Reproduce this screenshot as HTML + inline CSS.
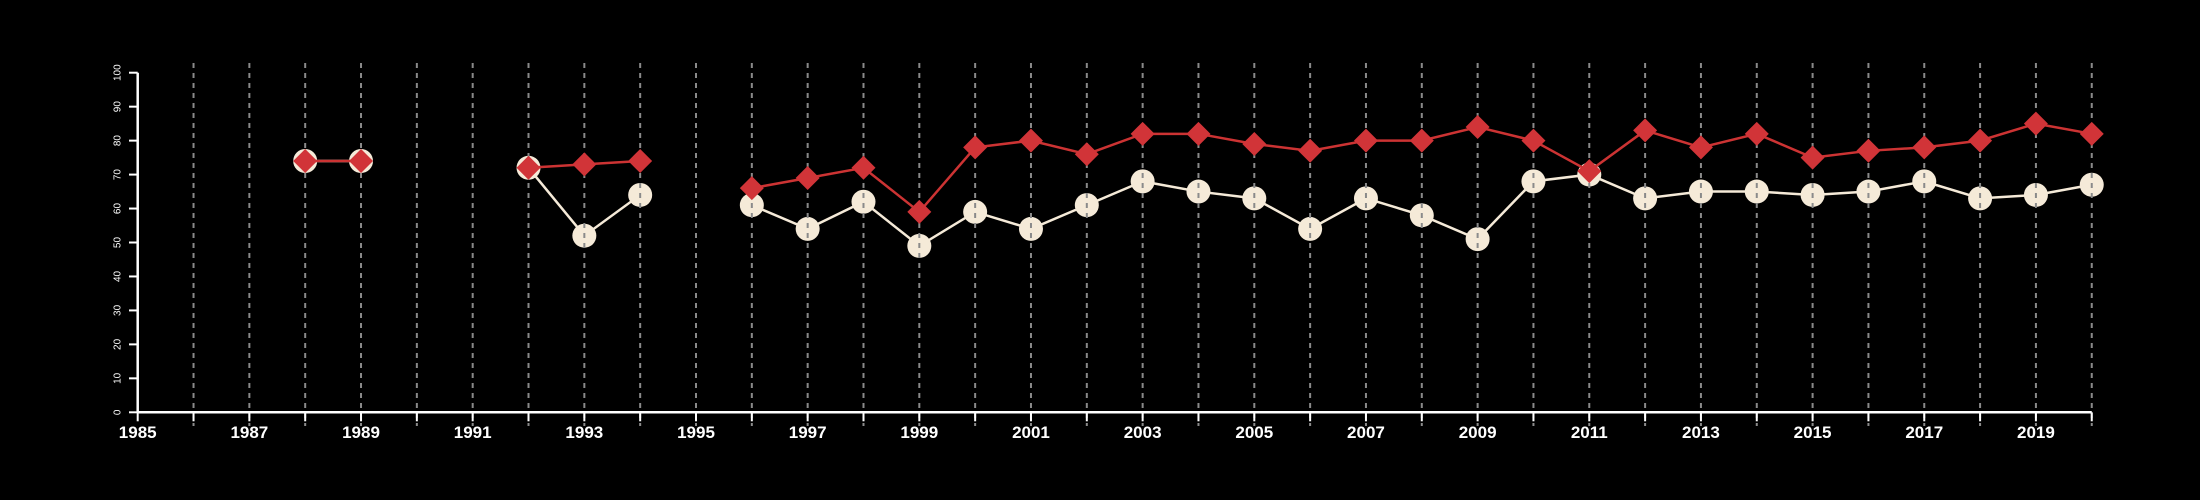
<!DOCTYPE html>
<html><head><meta charset="utf-8"><style>
html,body{margin:0;padding:0;background:#000;width:2200px;height:500px;overflow:hidden}
svg{display:block}
text{font-family:"Liberation Sans",sans-serif;fill:#fff}
</style></head><body>
<svg id="chart" width="2200" height="500" xmlns="http://www.w3.org/2000/svg">
<rect width="2200" height="500" fill="#000"/>
<g id="gCircles"></g>
<g id="gGrid"></g>
<g id="gRed"></g>
<g id="gAxes"></g>
</svg>
<script>
const years = [1988,1989,1990,1991,1992,1993,1994,1995,1996,1997,1998,1999,2000,2001,2002,2003,2004,2005,2006,2007,2008,2009,2010,2011,2012,2013,2014,2015,2016,2017,2018,2019,2020];
const whiteValues = [74,74,null,null,72,52,64,null,61,54,62,49,59,54,61,68,65,63,54,63,58,51,68,70,63,65,65,64,65,68,63,64,67];
const redValues = [74,74,null,null,72,73,74,null,66,69,72,59,78,80,76,82,82,79,77,80,80,84,80,71,83,78,82,75,77,78,80,85,82];
const yTicks = [0,10,20,30,40,50,60,70,80,90,100];
const xTickLabels = [1985,1987,1989,1991,1993,1995,1997,1999,2001,2003,2005,2007,2009,2011,2013,2015,2017,2019];

const NS="http://www.w3.org/2000/svg";
const x = y => 137.7 + (y-1985)*55.83;
const yS = v => 412.3 - v*3.396;
function mk(tag, attrs, parent){const e=document.createElementNS(NS,tag);for(const k in attrs)e.setAttribute(k,attrs[k]);parent.appendChild(e);return e;}
const gC=document.getElementById('gCircles'), gG=document.getElementById('gGrid'), gR=document.getElementById('gRed'), gA=document.getElementById('gAxes');

function segments(vals){const segs=[];let cur=[];vals.forEach((v,i)=>{if(v==null){if(cur.length)segs.push(cur);cur=[];}else cur.push([x(years[i]),yS(v)]);});if(cur.length)segs.push(cur);return segs;}

segments(whiteValues).forEach(s=>{
  const l=mk('polyline',{points:s.map(p=>p.join(',')).join(' '),fill:'none',stroke:'#f5ead8','stroke-width':2.5},gC);
  
  
});
whiteValues.forEach((v,i)=>{if(v==null)return;
  const c=mk('circle',{cx:x(years[i]),cy:yS(v),r:12,fill:'#f5ead8'},gC);
  
  
});

for(let yr=1986;yr<=2020;yr++){
  const l=mk('line',{x1:x(yr),x2:x(yr),y1:63,y2:426,stroke:'#8a8a8a','stroke-width':2,'stroke-dasharray':'5,5'},gG);
  
  
}

segments(redValues).forEach(s=>{
  const l=mk('polyline',{points:s.map(p=>p.join(',')).join(' '),fill:'none',stroke:'#cc3333','stroke-width':2.5},gR);
  
  
});
redValues.forEach((v,i)=>{if(v==null)return;const cx=x(years[i]),cy=yS(v),d=12;
  const p=mk('polygon',{points:`${cx},${cy-d} ${cx+d},${cy} ${cx},${cy+d} ${cx-d},${cy}`,fill:'#d13438'},gR);
  
  
});

// axes
const ya=mk('line',{x1:137.7,x2:137.7,y1:yS(100),y2:yS(0),stroke:'#fff','stroke-width':2.5},gA);


yTicks.forEach(t=>{
  const tk=mk('line',{x1:129,x2:137.7,y1:yS(t),y2:yS(t),stroke:'#fff','stroke-width':2},gA);
  
  
  const tx=mk('text',{x:0,y:0,'font-size':10,'text-anchor':'middle',transform:`translate(118,${yS(t)}) rotate(-90)`,'dominant-baseline':'middle'},gA);
  tx.textContent=t;
  
  
});
const xa=mk('line',{x1:137.7,x2:x(2020),y1:yS(0),y2:yS(0),stroke:'#fff','stroke-width':2.5},gA);


for(let yr=1985;yr<=2020;yr++){
  const tk=mk('line',{x1:x(yr),x2:x(yr),y1:yS(0),y2:yS(0)+9,stroke:'#fff','stroke-width':2},gA);
  
  
}
xTickLabels.forEach(t=>{
  const tx=mk('text',{x:x(t),y:438,'font-size':17,'font-weight':'bold','text-anchor':'middle'},gA);
  tx.textContent=t;
  
  
});
</script>
</body></html>
